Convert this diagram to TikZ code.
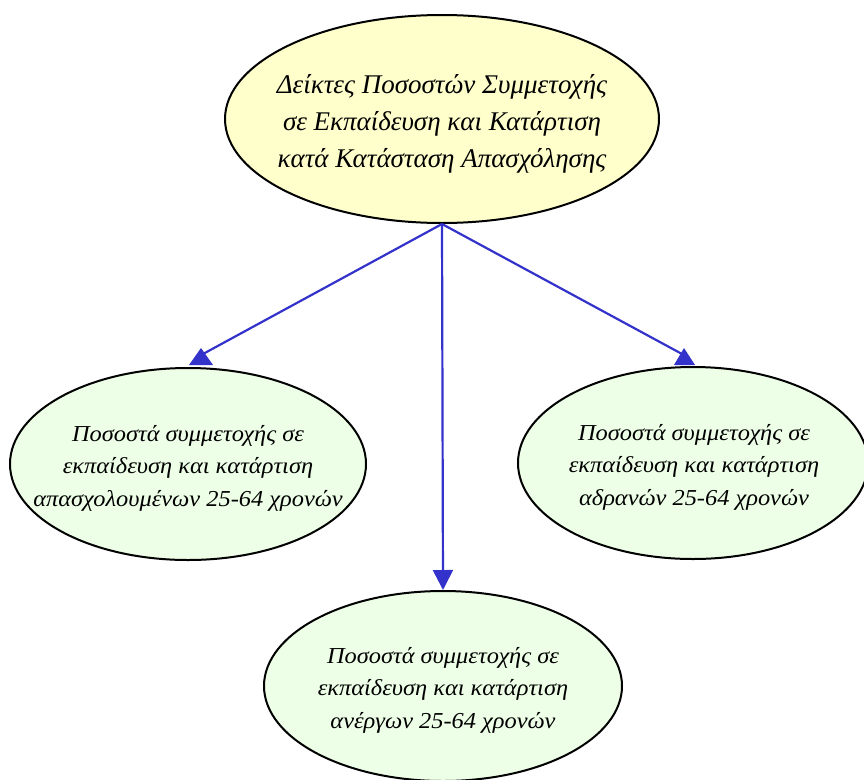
\documentclass[tikz,border=0pt]{standalone}
\usepackage{fontspec}
\setmainfont{Liberation Serif}
\usetikzlibrary{shapes.geometric,arrows.meta}
\definecolor{topfill}{HTML}{FFFFCC}
\definecolor{leaffill}{HTML}{EEFFE8}
\definecolor{edgeblue}{HTML}{3333CC}
\tikzset{
  elbox/.style={ellipse,draw=black,line width=2pt,inner sep=0pt},
  topbox/.style={elbox,fill=topfill,minimum width=434pt,minimum height=208pt},
  leafbox/.style={elbox,fill=leaffill,minimum width=356pt,minimum height=192pt},
  toptext/.style={align=center,inner sep=0pt,font=\itshape\fontsize{27}{37}\selectfont},
  leaftext/.style={align=center,inner sep=0pt,font=\itshape\fontsize{22.8}{32.5}\selectfont\addfontfeatures{FakeStretch=1.07}},
  conn/.style={draw=edgeblue,line width=2.2pt},
  tip/.style={fill=edgeblue,draw=none}
}
\begin{document}
\begin{tikzpicture}[x=1pt,y=-1pt]
\useasboundingbox (0,0) rectangle (864,779);
\node[topbox] (top) at (442,119) {};
\node[toptext] (toplabel) at (442,124) {Δείκτες Ποσοστών Συμμετοχής\\σε Εκπαίδευση και Κατάρτιση\\κατά Κατάσταση Απασχόλησης};
\node[leafbox] (left) at (188,464) {};
\node[leaftext] (leftlabel) at (188,468) {Ποσοστά συμμετοχής σε\\εκπαίδευση και κατάρτιση\\απασχολουμένων 25-64 χρονών};
\node[leafbox,minimum width=350pt] (right) at (693,463) {};
\node[leaftext] (rightlabel) at (694,467) {Ποσοστά συμμετοχής σε\\εκπαίδευση και κατάρτιση\\αδρανών 25-64 χρονών};
\node[leafbox,minimum width=358pt,minimum height=190pt] (bottom) at (443,686) {};
\node[leaftext] (bottomlabel) at (443,690) {Ποσοστά συμμετοχής σε\\εκπαίδευση και κατάρτιση\\ανέργων 25-64 χρονών};
\coordinate (la) at (203,354);
\coordinate (ra) at (682,354);
\draw[conn] (top.south) -- (la);
\draw[conn] (top.south) -- (ra);
\draw[conn,-{Triangle[length=20pt,width=20pt]}] (top.south) -- (bottom.north);
\fill[tip] (201,348) -- (189,365) -- (213,365) -- cycle;
\fill[tip] (684,348) -- (674,365) -- (695,365) -- cycle;
\end{tikzpicture}
\end{document}
